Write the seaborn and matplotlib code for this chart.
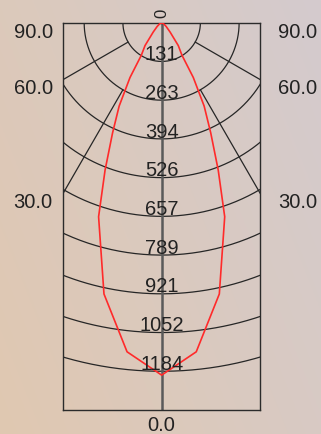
import numpy as np
import seaborn as sns
from matplotlib import pyplot as plt

sns.set_style("white")
plt.rcParams['font.family'] = ['Liberation Sans', 'DejaVu Sans']

# luminous intensity curve (angle from nadir in degrees, cd)
angles = [0, 6, 12, 18, 21, 24, 27, 30, 32, 36, 42, 50, 60, 75, 90]
intensity = [1197, 1124, 942, 693, 536, 410, 318, 215, 130, 96, 43, 20, 8, 2, 0]

# ring values and their labels
ring_step = 131.55
ring_values = [ring_step * k for k in range(1, 10)]
ring_labels = ["131", "263", "394", "526", "657", "789", "921", "1052", "1184"]
r_max = ring_step * 10

# radial guide lines: angle, first ring they start from
spoke_angles = [30, 60]
spoke_start = [ring_values[1], ring_values[0]]
angle_labels = ["90.0", "60.0", "30.0"]
label_angles = [90, 60, 30]

W, H = 321, 434
fig = plt.figure(figsize=(W / 100, H / 100), dpi=100)

# background gradient
bg = fig.add_axes([0, 0, 1, 1], zorder=-5)
gx, gy = np.meshgrid(np.linspace(0, 1, 200), np.linspace(0, 1, 200))
t = np.clip(0.65 * gx + 0.35 * (1 - gy), 0, 1)[..., None]
c0 = np.array([224, 200, 177]) / 255
c1 = np.array([212, 203, 206]) / 255
bg.imshow(c0 * (1 - t) + c1 * t, aspect='auto', extent=[0, 1, 0, 1])
bg.axis('off')

half_w = 334
ax = fig.add_axes([63.3 / W, 24 / H, 196.7 / W, 387.3 / H])
ax.set_facecolor('none')
ax.set_xlim(-half_w, half_w)
ax.set_ylim(-r_max, 0)
ax.set_xticks([])
ax.set_yticks([])
for sp in ax.spines.values():
    sp.set_color('#2b2b2b')
    sp.set_linewidth(1.0)

grid_kw = dict(color='#262626', lw=0.9)
th = np.radians(np.linspace(-90, 90, 361))
for r in ring_values:
    ax.plot(r * np.sin(th), -r * np.cos(th), **grid_kw)
for a, r0 in zip(spoke_angles, spoke_start):
    rad = np.radians(a)
    for s in (-1, 1):
        ax.plot([s * r0 * np.sin(rad), s * 3 * r_max * np.sin(rad)],
                [-r0 * np.cos(rad), -3 * r_max * np.cos(rad)], **grid_kw)
ax.plot([0, 0], [0, -r_max], color='#5a5a5a', lw=1.8)

# intensity curve, mirrored to both sides
a_full = np.radians(np.r_[-np.array(angles[::-1]), np.array(angles[1:])])
i_full = np.r_[np.array(intensity[::-1]), np.array(intensity[1:])]
sns.lineplot(x=i_full * np.sin(a_full), y=-i_full * np.cos(a_full),
             sort=False, estimator=None, color='#ff2a2a', lw=1.2, ax=ax, zorder=5)

txt = dict(fontsize=14.5, color='#222222')
for r, lab in zip(ring_values, ring_labels):
    ax.annotate(lab, xy=(0, -r), xytext=(0, 1), textcoords='offset points',
                ha='center', va='baseline', zorder=6, **txt)

for a, lab in zip(label_angles, angle_labels):
    yh = 0 if a == 90 else -half_w / np.tan(np.radians(a))
    ax.annotate(lab, xy=(-half_w, yh), xytext=(-7.6, 0), textcoords='offset points',
                ha='right', va='top', annotation_clip=False, **txt)
    ax.annotate(lab, xy=(half_w, yh), xytext=(13, 0), textcoords='offset points',
                ha='left', va='top', annotation_clip=False, **txt)

ax.annotate("0.0", xy=(0, -r_max), xytext=(0, -4.3), textcoords='offset points',
            ha='center', va='top', annotation_clip=False, **txt)
ax.annotate("0", xy=(0, 0), xytext=(0, 6.8), textcoords='offset points',
            ha='center', va='center', rotation=90, fontsize=12, color='#222222',
            annotation_clip=False)

fig.savefig('out.png', dpi=100)
